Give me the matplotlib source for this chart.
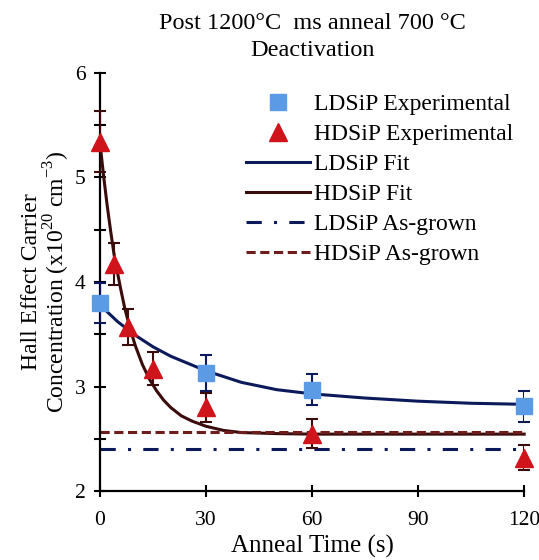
import numpy as np
import matplotlib
matplotlib.use('Agg')
import matplotlib.pyplot as plt
from matplotlib.ticker import MultipleLocator

plt.rcParams['font.family'] = ['Liberation Serif', 'DejaVu Serif']
plt.rcParams['mathtext.fontset'] = 'custom'
plt.rcParams['mathtext.rm'] = 'Liberation Serif'

# experimental points
t_ld = [0, 30, 60, 120]
ld = [3.80, 3.13, 2.97, 2.81]
ld_err = [0.19, 0.17, 0.15, 0.15]

t_hd = [0, 4, 8, 15, 30, 60, 120]
hd = [5.34, 4.17, 3.57, 3.17, 2.80, 2.55, 2.32]
hd_err = [0.29, 0.20, 0.17, 0.16, 0.14, 0.14, 0.12]

# fit curves
t_ld_fit = [0, 5, 10, 15, 20, 25, 30, 40, 50, 60, 75, 90, 105, 120]
ld_fit = [3.78, 3.62, 3.49, 3.38, 3.29, 3.22, 3.15, 3.04, 2.97, 2.93, 2.89, 2.86, 2.84, 2.83]

t_hd_fit = [0, 1, 2, 3, 4, 5, 6, 7, 8, 9, 10, 12, 14, 16, 18, 20, 23, 26, 30, 35, 40, 50, 60, 120]
hd_fit = [5.33, 5.02, 4.74, 4.49, 4.26, 4.08, 3.91, 3.75, 3.62, 3.50, 3.39, 3.21, 3.07, 2.96,
          2.87, 2.80, 2.72, 2.67, 2.62, 2.58, 2.56, 2.55, 2.545, 2.545]

ld_asgrown = 2.40
hd_asgrown = 2.565

c_sq = '#5b9be6'
c_tri = '#d0141c'
c_navy = '#0c1a5c'
c_brown = '#3a0c0c'
c_maroon = '#6e1c1c'

fig = plt.figure(figsize=(5.39, 5.60), dpi=100)
ax = fig.add_axes([0.1855, 0.123, 0.787, 0.747])

ax.plot(t_ld_fit, ld_fit, color=c_navy, lw=2.2, label='LDSiP Fit', zorder=2)
ax.plot(t_hd_fit, hd_fit, color=c_brown, lw=2.2, label='HDSiP Fit', zorder=2)
ax.plot([0, 120], [ld_asgrown, ld_asgrown], color=c_navy, lw=2.2,
        linestyle=(0, (5, 4, 1, 4)), label='LDSiP As-grown', zorder=2)
ax.plot([0, 120], [hd_asgrown, hd_asgrown], color=c_maroon, lw=2.2,
        linestyle=(0, (3, 1.5)), label='HDSiP As-grown', zorder=2)

ax.errorbar(t_ld, ld, yerr=ld_err, fmt='none', ecolor=c_navy, elinewidth=1.5,
            capsize=4, capthick=1.5, zorder=3)
ax.errorbar(t_hd, hd, yerr=hd_err, fmt='none', ecolor=c_brown, elinewidth=1.5,
            capsize=4, capthick=1.5, zorder=3)
ax.plot(t_ld, ld, 's', color=c_sq, ms=12, mec=c_sq, label='LDSiP Experimental', zorder=4)
ax.plot(t_hd, hd, '^', color=c_tri, ms=12.5, mec=c_tri, label='HDSiP Experimental', zorder=4)

ax.set_xlim(0, 120)
ax.set_ylim(2, 6)
ax.set_xticks([0, 30, 60, 90, 120])
ax.set_yticks([2, 3, 4, 5, 6])
ax.yaxis.set_minor_locator(MultipleLocator(0.5))
ax.tick_params(axis='both', which='both', direction='inout', length=9, width=1.5,
               labelsize=15.5, colors='black')
ax.tick_params(axis='x', pad=10)
ax.tick_params(axis='y', pad=6)
for s in ['top', 'right']:
    ax.spines[s].set_visible(False)
for s in ['left', 'bottom']:
    ax.spines[s].set_linewidth(1.6)
for art in ax.lines:
    art.set_clip_on(False)

ax.set_xlabel('Anneal Time (s)', fontsize=18, labelpad=3)
ax.set_ylabel('Hall Effect Carrier\nConcentration (x10$^{20}$ cm$^{-3}$)', fontsize=17,
              labelpad=2, linespacing=1.0)
ax.set_title('Post 1200\u00b0C  ms anneal 700 \u00b0C\nDeactivation', fontsize=17.5, pad=12,
             linespacing=1.4)

h, l = ax.get_legend_handles_labels()
order = [4, 5, 0, 1, 2, 3]
ax.legend([h[i] for i in order], [l[i] for i in order], loc='upper left',
          bbox_to_anchor=(0.345, 0.95), frameon=False, fontsize=17, handlelength=2.7,
          handletextpad=0.17, labelspacing=0.36, borderaxespad=0, borderpad=0)

fig.savefig('out.png', dpi=100)
